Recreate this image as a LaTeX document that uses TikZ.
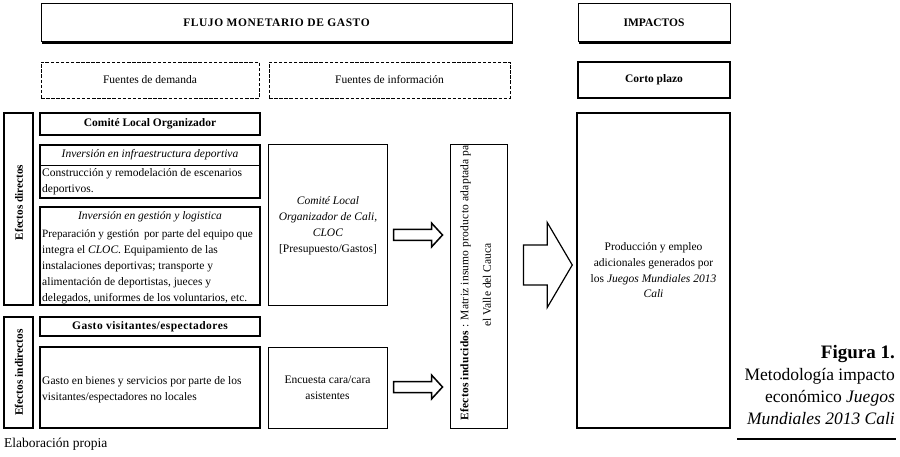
\documentclass[tikz,border=0pt]{standalone}
\usepackage{fontspec}
\setmainfont{Liberation Serif}
\usetikzlibrary{calc,shadows}
\newcommand\bodyf{\fontsize{11.5}{16}\selectfont}
\newcommand\harrow[5]{%
  \draw[arrowline] ($(#1)+(0,-#4)$) -- ($(#2)+(-#3,-#4)$) -- ($(#2)+(-#3,-#5)$) -- (#2)
    -- ($(#2)+(-#3,#5)$) -- ($(#2)+(-#3,#4)$) -- ($(#1)+(0,#4)$) -- cycle;}
\begin{document}
\begin{tikzpicture}[x=1pt,y=-1pt,
  bx/.style={draw, line width=1.4pt, inner sep=0pt, align=center, font=\bodyf},
  thinbx/.style={draw, line width=1pt, inner sep=0pt, align=center, font=\bodyf},
  titlebx/.style={bx, fill=white, line width=1pt,
     drop shadow={shadow xshift=1.3pt, shadow yshift=-1.6pt, fill=black, opacity=1}},
  dsh/.style={draw, line width=0.7pt, dash pattern=on 3.5pt off 1.6pt, inner sep=0pt, font=\bodyf},
  txt/.style={inner sep=0pt, font=\bodyf},
  arrowline/.style={draw, line width=1.5pt, fill=white, line join=miter},
  capt/.style={inner sep=0pt, font=\fontsize{17.5}{21}\selectfont}
]
\useasboundingbox (0,0) rectangle (900,457);

% headers
\node[titlebx, minimum width=471pt, minimum height=38pt] (flujo) at (276.5,23) {\bfseries\addfontfeature{LetterSpace=5}FLUJO MONETARIO DE GASTO};
\node[titlebx, minimum width=152pt, minimum height=38pt] (imp) at (654,23) {\bfseries IMPACTOS};
\node[dsh, minimum width=218pt, minimum height=36pt] (dem) at (150,80) {Fuentes de demanda};
\node[dsh, minimum width=241pt, minimum height=36pt] (info) at (389.5,80) {Fuentes de información};
\node[bx, line width=1.2pt, minimum width=152pt, minimum height=36pt] (corto) at (654,80) {\bfseries Corto plazo};

% left column
\node[bx, minimum width=29pt, minimum height=192pt] (efdir) at (18.5,209) {};
\node[txt, rotate=90, font=\fontsize{11.2}{12}\selectfont\bfseries] (efdirt) at (19,202.5) {Efectos directos};
\node[bx, minimum width=29pt, minimum height=111pt] (efind) at (18.5,372.5) {};
\node[txt, rotate=90, font=\fontsize{11.4}{12}\selectfont\bfseries] (efindt) at (19,372.5) {Efectos indirectos};

\node[bx, line width=1.8pt, minimum width=220pt, minimum height=22pt] (clo) at (150,124) {\bfseries Comité Local Organizador};

\node[bx, minimum width=220pt, minimum height=53pt] (infra) at (150,171.5) {};
\node[txt, font=\bodyf\itshape] (infrah) at (150,155) {Inversión en infraestructura deportiva};
\draw[line width=0.6pt] (infra.west |- 0,165) coordinate (isl) -- (infra.east |- 0,165) coordinate (isr);
\node[txt, anchor=west, align=left, font=\fontsize{11.5}{15.5}\selectfont] (infrab) at (42,181.5)
  {Construcción y remodelación de escenarios\\deportivos.};

\node[bx, minimum width=220pt, minimum height=98pt] (gest) at (150,256) {};
\node[txt, font=\bodyf\itshape] (gesth) at (150,217) {Inversión en gestión y logistica};
\node[txt, anchor=west, align=left] (gestb) at (42,267)
  {\fontsize{11.2}{16}\selectfont Preparación y gestión\hspace{2pt} por parte del equipo que\\
   integra el \textit{CLOC}. Equipamiento de las\\
   instalaciones deportivas; transporte y\\
   alimentación de deportistas, jueces y\\
   delegados, uniformes de los voluntarios, etc.};

\node[bx, minimum width=220pt, minimum height=19pt] (gvis) at (150,326.5)
  {\bfseries\addfontfeature{LetterSpace=4}Gasto visitantes/espectadores};
\node[bx, minimum width=220pt, minimum height=81pt] (gbien) at (150,387.5) {};
\node[txt, anchor=west, align=left, font=\fontsize{11.5}{15.5}\selectfont] (gbient) at (42,389.5)
  {Gasto en bienes y servicios por parte de los\\visitantes/espectadores no locales};

% sources
\node[thinbx, minimum width=119pt, minimum height=160pt] (cloc) at (327.5,225) {};
\node[txt, align=center] (cloct) at (328,225.5)
  {\textit{Comité Local}\\\textit{Organizador de Cali,}\\\textit{CLOC}\\{}[Presupuesto/Gastos]};
\node[thinbx, minimum width=119pt, minimum height=81pt, font=\fontsize{11.5}{16}\selectfont] (enc) at (327.5,387.5)
  {Encuesta cara/cara\\asistentes};

% induced effects
\node[thinbx, minimum width=57pt, minimum height=283pt] (ind) at (478.5,286.5) {};
\begin{scope}
  \clip ($(ind.north west)+(0.5,0.8)$) rectangle ($(ind.south east)+(-0.5,-0.5)$);
  \node[txt, rotate=90, anchor=west, font=\bodyf\addfontfeature{LetterSpace=2}] (indt1) at (465.5,420.5)
    {\textbf{Efectos inducidos} : Matriz insumo producto adaptada para};
\end{scope}
\node[txt, rotate=90] (indt2) at (487,285) {el Valle del Cauca};

% impact box
\node[bx, line width=1.5pt, minimum width=153pt, minimum height=315pt, font=\fontsize{11.5}{15.7}\selectfont] (big) at (653.5,270.5)
  {Producción y empleo\\adicionales generados por\\los \textit{Juegos Mundiales 2013}\\\textit{Cali}};

% arrows
\coordinate (a1s) at ($(cloc.east)+(6,10)$);
\coordinate (a1e) at ($(ind.west |- a1s)+(-7,0)$);
\harrow{a1s}{a1e}{11}{5.5}{12}
\coordinate (a2s) at ($(enc.east)+(6,-0.5)$);
\coordinate (a2e) at ($(ind.west |- a2s)+(-7,0)$);
\harrow{a2s}{a2e}{11}{5.5}{12}
\coordinate (a3s) at ($(ind.east)+(16,-21.5)$);
\coordinate (a3e) at ($(big.west |- a3s)+(-4,0)$);
\begin{scope}[arrowline/.append style={line width=1.2pt}]
\harrow{a3s}{a3e}{25}{20}{42.5}
\end{scope}

% caption
\node[capt, anchor=base east, font=\fontsize{19}{21}\selectfont\bfseries] (fig) at (895,358) {Figura 1.};
\node[capt, anchor=base east] (c1) at (895,380.5) {Metodología impacto};
\node[capt, anchor=base east] (c2) at (895,402) {económico \textit{Juegos}};
\node[capt, anchor=base east] (c3) at (895,424) {\textit{Mundiales 2013 Cali}};
\coordinate (rl) at (737,439);
\coordinate (rr) at (896,439);
\draw[line width=1.8pt] (rl) -- (rr);

\node[txt, anchor=base west, font=\fontsize{13.5}{16}\selectfont] (elab) at (4,447.5) {Elaboración propia};
\end{tikzpicture}
\end{document}
